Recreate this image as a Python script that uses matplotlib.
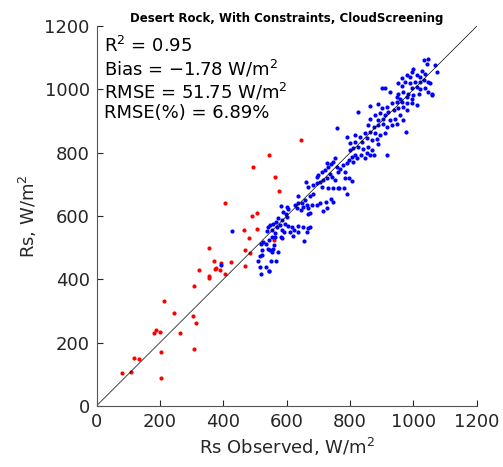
import numpy as np
import matplotlib
matplotlib.use("Agg")
import matplotlib.pyplot as plt

# red points (screened out by cloud screening)
red_obs = [81, 108, 119, 135, 203, 203, 182, 189, 200, 213, 245, 264, 303, 313, 306,
           307, 324, 355, 356, 374, 376, 370, 389, 392, 405, 423, 468, 544, 495, 562,
           575, 406, 492, 507, 466, 505, 480, 356, 468, 485, 559, 644]
red_mod = [103, 107, 151, 147, 87, 171, 229, 239, 233, 332, 294, 229, 284, 263, 179,
           380, 430, 403, 410, 431, 437, 457, 429, 452, 418, 456, 441, 793, 755, 724,
           680, 640, 601, 608, 555, 559, 530, 498, 492, 484, 525, 840]

# blue points (kept)
blue_obs = [427, 394,
            526, 519, 534, 544, 553, 563, 582, 621, 654, 540, 548, 558, 553, 574, 561, 521,
            516, 523, 510, 550, 565, 516, 536, 544, 518, 584, 545, 674,
            635, 674, 684, 658, 647, 663, 652, 637, 626, 632, 645, 668, 679, 695, 706, 723,
            740, 747, 726, 716, 674, 666, 582, 600, 605, 589, 597, 600, 574, 584, 565, 558,
            547, 542, 537, 553, 568, 579, 595, 605, 618, 635, 652, 668, 624, 637, 663, 610,
            592, 563, 586,
            800, 810, 826, 842, 858, 870, 853, 835, 816, 805, 795, 810, 821, 847, 863, 877,
            790, 779, 753, 747, 740, 731, 721, 711, 700, 695, 726, 758, 768, 784, 763, 737,
            742, 726, 716, 705, 695, 684, 711, 731, 747, 763, 782, 784, 797, 805, 753, 660,
            668, 790, 765, 916,
            863, 889, 900, 916, 932, 947, 963, 979, 995, 1011, 879, 895, 910, 921, 937, 952,
            966, 981, 958, 942, 926, 905, 889, 863, 826, 858, 874, 889, 905, 916, 932, 947,
            968, 977, 760, 816, 832, 847, 863, 879, 895, 910, 853, 868, 884, 837, 816, 800,
            889, 790,
            1032, 1047, 1042, 1000, 995, 1026, 1037, 1021, 1011, 989, 979, 963, 974, 952, 963,
            989, 1005, 1021, 1032, 1047, 1053, 1011, 995, 1021, 1037, 1047, 1058, 984, 968,
            952, 1000, 1016, 1074, 910, 900, 926, 947, 979, 995, 958, 1068, 1058]
blue_mod = [551, 445,
            518, 510, 510, 525, 535, 535, 533, 536, 520, 497, 493, 495, 487, 485, 508, 492,
            474, 478, 457, 457, 458, 440, 439, 426, 416, 529, 427, 564,
            663, 663, 671, 650, 640, 634, 629, 640, 634, 624, 618, 624, 634, 634, 640, 643,
            655, 645, 624, 616, 608, 606, 631, 629, 621, 613, 606, 597, 595, 587, 581, 576,
            571, 564, 553, 557, 566, 571, 576, 568, 566, 568, 566, 561, 557, 550, 550, 550,
            550, 547, 557,
            808, 815, 818, 813, 818, 808, 798, 792, 792, 787, 776, 771, 782, 782, 792, 794,
            766, 761, 782, 771, 763, 755, 745, 739, 731, 724, 766, 755, 750, 739, 739, 734,
            724, 719, 713, 708, 703, 697, 692, 689, 689, 689, 687, 719, 721, 710, 713, 708,
            692, 671, 690, 792,
            947, 953, 940, 945, 957, 961, 961, 956, 957, 950, 919, 924, 919, 929, 934, 940,
            945, 934, 919, 908, 903, 908, 903, 908, 929, 887, 882, 887, 892, 882, 887, 892,
            903, 866, 878, 855, 850, 861, 866, 863, 855, 861, 845, 840, 842, 834, 834, 831,
            829, 850,
            1092, 1095, 1080, 1066, 1056, 1059, 1050, 1040, 1045, 1040, 1045, 1035, 1024, 1019,
            1010, 1019, 1024, 1024, 1029, 1024, 1019, 1008, 1003, 1000, 1003, 992, 987, 987,
            992, 987, 982, 987, 1056, 1003, 1003, 992, 976, 976, 971, 971, 1077, 982]

stats = ["R$^2$ = 0.95", "Bias = \u22121.78 W/m$^2$", "RMSE = 51.75 W/m$^2$", "RMSE(%) = 6.89%"]

plt.rcParams['font.family'] = 'DejaVu Sans'
fig = plt.figure(figsize=(5.03, 4.67), dpi=100)
ax = fig.add_axes([0.192, 0.131, 0.756, 0.813])

ax.plot([0, 1200], [0, 1200], color='black', lw=0.5)
ax.scatter(red_obs, red_mod, s=9, color='red', linewidths=0)
ax.scatter(blue_obs, blue_mod, s=9, color='blue', linewidths=0)

ax.set_xlim(0, 1200)
ax.set_ylim(0, 1200)
ax.set_xticks(range(0, 1201, 200))
ax.set_yticks(range(0, 1201, 200))
ax.tick_params(direction='in', length=4, labelsize=13, colors='#262626', pad=5)
for s in ['top', 'right']:
    ax.spines[s].set_visible(False)
for s in ['left', 'bottom']:
    ax.spines[s].set_color('#555555')
    ax.spines[s].set_linewidth(0.8)

ax.set_xlabel("Rs Observed, W/m$^2$", fontsize=13, color='#262626')
ax.set_ylabel("Rs, W/m$^2$", fontsize=13, color='#262626')
ax.set_title("Desert Rock, With Constraints, CloudScreening", fontsize=8.5,
             fontweight='bold', pad=3)

for i, t in enumerate(stats):
    ax.text(0.02, 0.975 - i * 0.06, t, transform=ax.transAxes, fontsize=13,
            va='top', ha='left', color='black')

fig.savefig("out.png", dpi=100)
